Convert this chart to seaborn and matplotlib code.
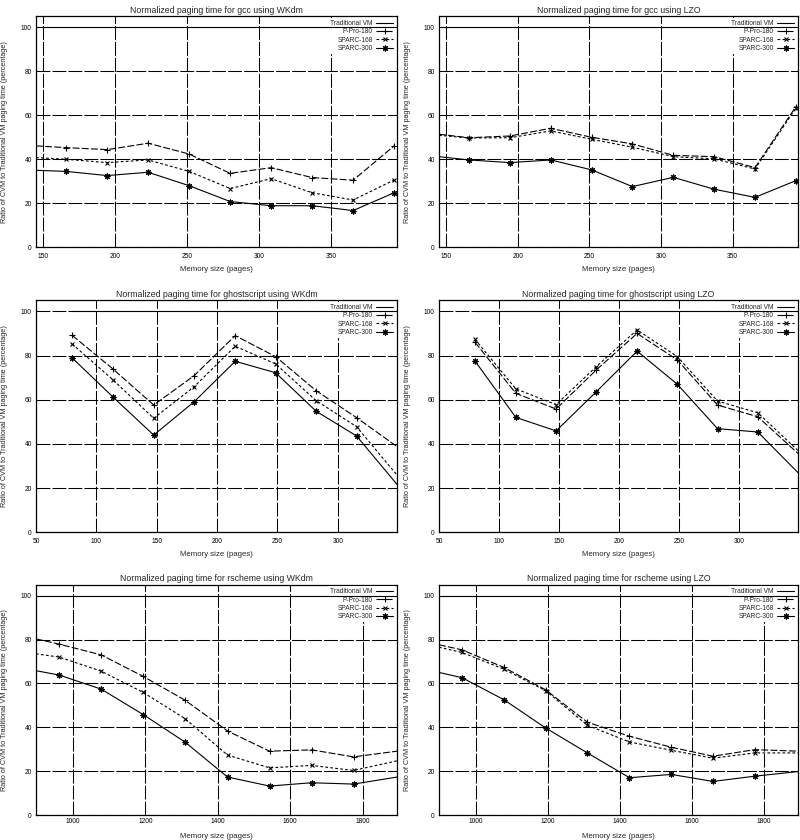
import matplotlib
matplotlib.use("Agg")
import matplotlib.pyplot as plt
import seaborn as sns
import pandas as pd

# ---------------- data ----------------
series_names = ["Traditional VM", "P-Pro-180", "SPARC-168", "SPARC-300"]

gcc_x = [145, 166, 194.5, 223, 251.5, 280, 308.5, 337, 365.5, 394]
gcc_trad = [100, 100, 100, 100, 100, 100, 100, 100, 100, 100]
gcc_wkdm_ppro = [46.1, 45.3, 44.4, 47.3, 42.4, 33.6, 36.2, 31.7, 30.5, 46.1]
gcc_wkdm_s168 = [40.8, 40.0, 38.5, 39.7, 34.5, 26.7, 31.2, 24.8, 21.5, 30.6]
gcc_wkdm_s300 = [35.0, 34.5, 32.6, 34.1, 28.0, 20.8, 18.9, 18.9, 16.7, 24.8]
gcc_lzo_ppro = [51.4, 49.8, 50.6, 54.1, 50.0, 47.0, 41.8, 41.2, 36.2, 63.9]
gcc_lzo_s168 = [50.9, 49.7, 49.8, 52.9, 49.1, 45.5, 41.2, 40.2, 35.6, 63.2]
gcc_lzo_s300 = [41.2, 39.7, 38.5, 39.7, 35.2, 27.6, 31.8, 26.4, 22.7, 30.3]

gs_x = [80, 114, 147.5, 181, 215, 248.5, 282, 315.5, 349]
gs_trad = [100, 100, 100, 100, 100, 100, 100, 100, 100]
gs_wkdm_ppro = [89.1, 73.8, 57.6, 70.9, 89.0, 79.5, 64.1, 51.9, 38.8]
gs_wkdm_s168 = [85.2, 68.9, 51.6, 65.9, 84.2, 76.2, 59.6, 47.8, 25.9]
gs_wkdm_s300 = [78.9, 61.1, 44.0, 59.1, 77.4, 72.2, 54.8, 43.6, 21.7]
gs_lzo_ppro = [86.0, 62.9, 55.8, 73.5, 90.0, 78.0, 57.6, 52.3, 35.7]
gs_lzo_s168 = [87.3, 64.9, 57.8, 75.0, 91.6, 79.5, 59.4, 54.1, 37.0]
gs_lzo_s300 = [77.5, 52.0, 45.9, 63.6, 82.0, 67.0, 46.9, 45.4, 27.0]

rs_x = [898, 962, 1078, 1194, 1310, 1427, 1543, 1659, 1775, 1895]
rs_trad = [100, 100, 100, 100, 100, 100, 100, 100, 100, 100]
rs_wkdm_ppro = [80.3, 77.9, 73.0, 63.2, 52.3, 38.3, 29.1, 29.7, 26.5, 29.1]
rs_wkdm_s168 = [73.5, 72.0, 65.6, 55.9, 43.9, 27.3, 21.5, 22.6, 20.3, 24.7]
rs_wkdm_s300 = [65.8, 63.8, 57.4, 45.8, 33.2, 17.3, 13.2, 14.7, 14.1, 17.3]
rs_lzo_ppro = [77.6, 75.3, 67.3, 57.1, 42.3, 35.9, 30.9, 26.8, 29.8, 29.1]
rs_lzo_s168 = [76.5, 74.1, 66.5, 56.7, 40.9, 33.3, 29.5, 25.9, 28.3, 28.3]
rs_lzo_s300 = [65.0, 62.6, 52.6, 39.7, 28.3, 17.0, 18.5, 15.3, 17.7, 19.8]

gcc_xticks = [150, 200, 250, 300, 350]
gs_xticks = [50, 100, 150, 200, 250, 300]
rs_xticks = [1000, 1200, 1400, 1600, 1800]
y_ticks = [0, 20, 40, 60, 80, 100]

titles = [
    "Normalized paging time for gcc using WKdm",
    "Normalized paging time for gcc using LZO",
    "Normalized paging time for ghostscript using WKdm",
    "Normalized paging time for ghostscript using LZO",
    "Normalized paging time for rscheme using WKdm",
    "Normalized paging time for rscheme using LZO",
]
xlabel_text = "Memory size (pages)"
ylabel_text = "Ratio of CVM to Traditional VM paging time (percentage)"

# ---------------- style ----------------
sns.set_style("white")
plt.rcParams["font.family"] = ["Liberation Sans", "DejaVu Sans"]
plt.rcParams["lines.scale_dashes"] = False

fig = plt.figure(figsize=(8, 8.4), dpi=100)

col_left = [36 / 800, 439 / 800]
col_w = [361 / 800, 359 / 800]
rows = [(16.3, 247.3), (300.3, 532.3), (584.7, 815.0)]
xlabel_y = [-0.08, -0.08, -0.077]
tick_pad = [4, 4, 2.5]

panels = [
    (gcc_x, gcc_trad, gcc_wkdm_ppro, gcc_wkdm_s168, gcc_wkdm_s300, (145, 396), gcc_xticks, "edge"),
    (gcc_x, gcc_trad, gcc_lzo_ppro, gcc_lzo_s168, gcc_lzo_s300, (145, 395.5), gcc_xticks, "edge"),
    (gs_x, gs_trad, gs_wkdm_ppro, gs_wkdm_s168, gs_wkdm_s300, (50, 349), gs_xticks, "right"),
    (gs_x, gs_trad, gs_lzo_ppro, gs_lzo_s168, gs_lzo_s300, (50, 349), gs_xticks, "right"),
    (rs_x, rs_trad, rs_wkdm_ppro, rs_wkdm_s168, rs_wkdm_s300, (898, 1895), rs_xticks, "both"),
    (rs_x, rs_trad, rs_lzo_ppro, rs_lzo_s168, rs_lzo_s300, (898, 1895), rs_xticks, "both"),
]

styles = {
    "Traditional VM": dict(linestyle="-", marker=None),
    "P-Pro-180": dict(linestyle=(0, (5, 1.6)), marker="+", markersize=4.5),
    "SPARC-168": dict(linestyle=(0, (2, 1.6)), marker="x", markersize=3),
    "SPARC-300": dict(linestyle="-", marker=(8, 2, 0), markersize=4.2),
}

grid_dash = (0, (10, 1.5))

for i, (xs, trad, ppro, s168, s300, xlim, xticks, skip) in enumerate(panels):
    r, c = divmod(i, 2)
    top, bot = rows[r]
    ax = fig.add_axes([col_left[c], 1 - bot / 840, col_w[c], (bot - top) / 840])
    n = len(xs)
    if skip == "edge":
        mk = list(range(1, n))
    elif skip == "right":
        mk = list(range(0, n - 1))
    else:
        mk = list(range(1, n - 1))
    for name, ys in zip(series_names, [trad, ppro, s168, s300]):
        df = pd.DataFrame({"x": xs, "y": ys})
        st = styles[name]
        kw = dict(color="black", linewidth=0.8, linestyle=st["linestyle"],
                  label=name, legend=False)
        if st["marker"] is not None:
            kw.update(marker=st["marker"], markersize=st["markersize"],
                      markeredgecolor="black", markerfacecolor="black",
                      markeredgewidth=0.8, markevery=mk)
        sns.lineplot(data=df, x="x", y="y", ax=ax, **kw)
        if name == "Traditional VM":
            ax.lines[-1].set_zorder(6)
    ax.set_xlim(*xlim)
    ax.set_ylim(0, 105)
    ax.set_xticks(xticks)
    ax.set_yticks(y_ticks)
    ax.tick_params(axis="y", length=0, labelsize=4.8, pad=3, colors="black")
    ax.tick_params(axis="x", length=0, labelsize=4.8, pad=tick_pad[r], colors="black")
    ax.grid(True, color="black", linewidth=0.75, linestyle=grid_dash)
    ax.set_axisbelow(True)
    for sp in ax.spines.values():
        sp.set_color("black")
        sp.set_linewidth(0.9)
    ax.set_title(titles[i], fontsize=6.3, pad=2.5)
    ax.set_xlabel(xlabel_text, fontsize=5.6)
    ax.set_ylabel(ylabel_text, fontsize=5.2)
    ax.xaxis.set_label_coords(0.5, xlabel_y[r])
    ax.yaxis.set_label_coords(-0.078, 0.5)
    handles, labels = ax.get_legend_handles_labels()
    leg = ax.legend(handles, labels, loc="upper right", fontsize=4.8,
                    markerfirst=False, frameon=True, handlelength=2.6,
                    handletextpad=0.5, labelspacing=0.2, borderpad=0.3,
                    borderaxespad=0.25, fancybox=False)
    leg.get_frame().set_facecolor("white")
    leg.get_frame().set_edgecolor("none")
    leg.get_frame().set_alpha(1.0)
    for t in leg.get_texts():
        t.set_ha("right")

fig.savefig("out.png", dpi=100)
